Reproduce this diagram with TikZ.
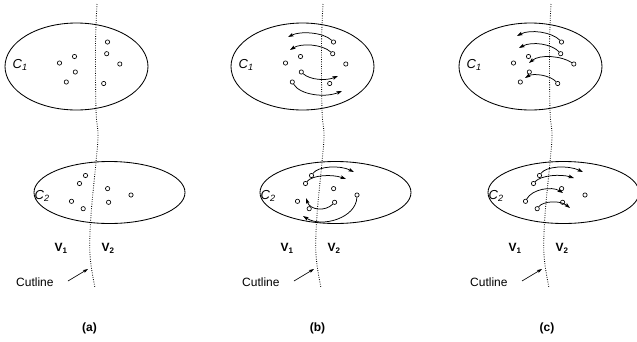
\documentclass[tikz,border=0pt]{standalone}
\usepackage{fontspec}
\setmainfont{Liberation Sans}
\usetikzlibrary{shapes.geometric,arrows.meta}
\tikzset{
  pt/.style={circle,draw,line width=0.65pt,minimum size=4.3pt,inner sep=0pt},
  cluster/.style={ellipse,draw,line width=0.85pt,inner sep=0pt},
  lbl/.style={inner sep=0pt,font=\fontsize{12}{14}\selectfont},
  clbl/.style={inner sep=0pt,font=\fontsize{13}{15}\selectfont\itshape},
  cut/.style={line width=0.85pt,dash pattern=on 0.8pt off 1.5pt},
  mv/.style={line width=0.75pt,-{Stealth[length=5.5pt,width=3.6pt,inset=1pt]}},
  ptr/.style={line width=0.65pt,-{Stealth[length=5pt,width=3.2pt,inset=1pt]}},
}
% One panel: two clusters, their vertices, the cut line and its labels.
% #1 = name prefix, #2 = horizontal offset
\newcommand\cutpanel[2]{%
  \begin{scope}[xshift=#2]
    \node[cluster,minimum width=143pt,minimum height=87pt] (#1C1) at (76.5,66.5) {};
    \node[cluster,minimum width=151pt,minimum height=62pt] (#1C2) at (109.5,192.5) {};
    \node[clbl,anchor=base west] (#1L1) at (12.5,68.5) {C\textsubscript{1}};
    \node[clbl,anchor=base west] (#1L2) at (34.5,199.5) {C\textsubscript{2}};
    % vertices of C1
    \node[pt] (#1p1) at (59.5,63) {};
    \node[pt] (#1p2) at (74.5,56.5) {};
    \node[pt] (#1p3) at (75.3,72) {};
    \node[pt] (#1p4) at (66.3,82) {};
    \node[pt] (#1p5) at (107.5,42) {};
    \node[pt] (#1p6) at (106.7,53.7) {};
    \node[pt] (#1p7) at (119.8,64) {};
    \node[pt] (#1p8) at (103.7,83.5) {};
    % vertices of C2
    \node[pt] (#1q1) at (85.5,175.5) {};
    \node[pt] (#1q2) at (79.5,183.5) {};
    \node[pt] (#1q3) at (71.5,201.3) {};
    \node[pt] (#1q4) at (83.2,208.7) {};
    \node[pt] (#1q5) at (107.6,188.6) {};
    \node[pt] (#1q6) at (108.6,202.3) {};
    \node[pt] (#1q7) at (131,195) {};
    % the cut line
    \draw[cut] plot[smooth,tension=0.6] coordinates
      {(97,4) (95.5,45) (96,110) (98,135) (96,162) (91,215) (90,255) (95,288)};
    \node[lbl,anchor=base west] (#1V1) at (54.5,251.5) {\textbf{V}\textsubscript{\textbf{1}}};
    \node[lbl,anchor=base west] (#1V2) at (101.5,251.5) {\textbf{V}\textsubscript{\textbf{2}}};
    \node[lbl,anchor=base west] (#1cl) at (16,286) {Cutline};
    \coordinate (#1cf) at (68,281);
    \coordinate (#1ct) at (88,269);
    \draw[ptr] (#1cf) -- (#1ct);
  \end{scope}}

\begin{document}
\begin{tikzpicture}[x=1pt,y=-1pt]
  \useasboundingbox (0,0) rectangle (637,341);
  \fill[white] (0,0) rectangle (637,341);

  \cutpanel{a}{0pt}
  \cutpanel{b}{226pt}
  \cutpanel{c}{454pt}

  \node[lbl,font=\fontsize{12}{14}\selectfont\bfseries] (capa) at (89.5,328.5) {(a)};
  \node[lbl,font=\fontsize{12}{14}\selectfont\bfseries] (capb) at (317.5,328.5) {(b)};
  \node[lbl,font=\fontsize{12}{14}\selectfont\bfseries] (capc) at (547,328.5) {(c)};

  % (b): moves inside C1
  \coordinate (bt1) at (288,37);
  \coordinate (bt2) at (290,50);
  \coordinate (bt3) at (338,76);
  \coordinate (bt4) at (342,91);
  \draw[mv] (bp5) .. controls (323,32) and (300,31) .. (bt1);
  \draw[mv] (bp6) .. controls (322,44) and (301,43) .. (bt2);
  \draw[mv] (bp3) .. controls (310,80) and (326,81) .. (bt3);
  \draw[mv] (bp4) .. controls (300,95) and (325,98) .. (bt4);
  % (b): moves inside C2
  \coordinate (bs1) at (354,172);
  \coordinate (bs2) at (346,179);
  \coordinate (bs3) at (303,216);
  \coordinate (bs4) at (306,198);
  \draw[mv] (bq1) .. controls (318,166) and (340,165) .. (bs1);
  \draw[mv] (bq2) .. controls (312,175) and (332,174) .. (bs2);
  \draw[mv] (bq7) .. controls (356,218) and (322,228) .. (bs3);
  \draw[mv] (bq6) .. controls (325,212) and (310,210) .. (bs4);

  % (c): moves inside C1
  \coordinate (ct1) at (517,36);
  \coordinate (ct2) at (519,48);
  \coordinate (ct3) at (529,63);
  \coordinate (ct4) at (525,78);
  \draw[mv] (cp5) .. controls (552,32) and (530,29) .. (ct1);
  \draw[mv] (cp6) .. controls (552,44) and (532,41) .. (ct2);
  \draw[mv] (cp7) .. controls (562,56) and (540,54) .. (ct3);
  \draw[mv] (cp8) .. controls (550,75) and (533,73) .. (ct4);
  % (c): moves inside C2
  \coordinate (cs1) at (583,172);
  \coordinate (cs2) at (574,178);
  \coordinate (cs3) at (563,193);
  \coordinate (cs4) at (570,208);
  \draw[mv] (cq1) .. controls (546,166) and (568,165) .. (cs1);
  \draw[mv] (cq2) .. controls (541,175) and (561,174) .. (cs2);
  \draw[mv] (cq3) .. controls (532,189) and (552,186) .. (cs3);
  \draw[mv] (cq4) .. controls (543,201) and (560,200) .. (cs4);
\end{tikzpicture}
\end{document}
